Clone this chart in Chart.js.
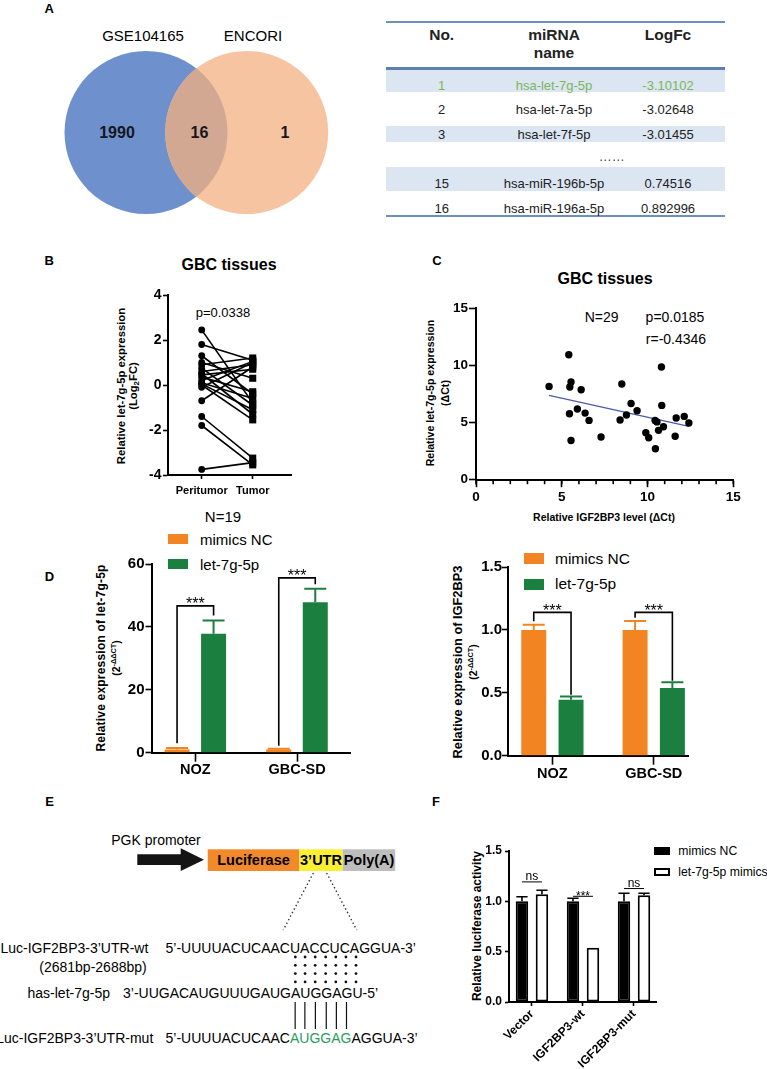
<!DOCTYPE html>
<html><head><meta charset="utf-8">
<script src="https://cdn.jsdelivr.net/npm/chart.js@4.4.1/dist/chart.umd.min.js"></script>
<style>
html,body{margin:0;padding:0;background:#fff;}
body{width:767px;height:1069px;position:relative;overflow:hidden;font-family:"Liberation Sans",Arial,sans-serif;color:#000;}
.t{position:absolute;white-space:nowrap;line-height:1;}
canvas{position:absolute;}
svg{position:absolute;left:0;top:0;}
sup{font-size:70%;vertical-align:0.45em;line-height:0;}
sub{font-size:70%;vertical-align:-0.25em;line-height:0;}
</style></head><body>
<script>
// ---------------- DATA ----------------
const vennSets = ['GSE104165', 'ENCORI'];
const vennCounts = [1990, 16, 1];

const tableHead = ['No.', 'miRNA', 'name', 'LogFc'];
const tableNo = ['1', '2', '3', '15', '16'];
const tableMiRNA = ['hsa-let-7g-5p', 'hsa-let-7a-5p', 'hsa-let-7f-5p', 'hsa-miR-196b-5p', 'hsa-miR-196a-5p'];
const tableLogFc = ['-3.10102', '-3.02648', '-3.01455', '0.74516', '0.892996'];

const pairedCats = ['Peritumor', 'Tumor'];
const peritumor = [2.45, 1.8, 1.3, 1.0, 0.9, 0.75, 0.6, 0.5, 0.45, 0.35, 0.2, 0.1, 0.05, 0.0, -0.1, -0.7, -1.4, -1.8, -3.75];
const tumor     = [-0.8, 1.1, -0.4, 0.3, 1.2, -0.9, 0.9, -1.3, 0.7, -0.3, 1.05, -0.6, -1.1, -1.55, 1.0, 0.8, -3.25, -3.55, -3.45];
const pairedTicks = [-4, -2, 0, 2, 4];

const scatterX = [4.26, 5.41, 5.54, 5.47, 6.13, 5.45, 5.91, 6.36, 6.59, 5.54, 7.29, 8.50, 8.40, 8.77, 9.04, 9.39, 9.90, 10.07, 10.44, 10.46, 10.81, 10.83, 10.64, 10.93, 11.61, 11.67, 12.14, 12.41, 10.55];
const scatterY = [8.15, 10.92, 8.53, 8.10, 7.86, 5.76, 6.17, 5.82, 5.18, 3.43, 3.73, 8.36, 5.21, 5.65, 6.66, 6.03, 4.10, 3.67, 5.18, 2.71, 9.84, 6.49, 4.31, 4.63, 3.79, 5.39, 5.53, 4.95, 5.05];
const fitX = [4.26, 12.41];
const fitY = [7.36, 4.66];
const scatterMajor = [0, 5, 10, 15];

const cellLines = ['NOZ', 'GBC-SD'];
const seriesNames = ['mimics NC', 'let-7g-5p'];
const let7Mean_NC = [1.0, 1.0];
const let7Err_NC = [0.5, 0.25];
const let7Mean_mim = [37.8, 47.8];
const let7Err_mim = [4.2, 4.3];
const igfMean_NC = [1.0, 1.0];
const igfErr_NC = [0.04, 0.07];
const igfMean_mim = [0.445, 0.538];
const igfErr_mim = [0.025, 0.045];

const lucCats = ['Vector', 'IGF2BP3-wt', 'IGF2BP3-mut'];
const lucNames = ['mimics NC', 'let-7g-5p mimics'];
const lucMean_NC = [1.0, 1.0, 1.0];
const lucErr_NC = [0.045, 0.03, 0.08];
const lucMean_mim = [1.07, 0.54, 1.06];
const lucErr_mim = [0.04, 0.0, 0.02];
const lucSig = ['ns', '***', 'ns'];

const seqWt = '5\u2019-UUUUACUCAACUACCUCAGGUA-3\u2019';
const seqMir = '3\u2019-UUGACAUGUUUGAUGAUGGAGU-5\u2019';
const seqMutParts = ['5\u2019-UUUUACUCAAC', 'AUGGAG', 'AGGUA-3\u2019'];

// ---------------- helpers ----------------
const FONT = '"Liberation Sans", Arial, sans-serif';
Chart.defaults.font.family = FONT;
Chart.defaults.color = '#000';
const ORANGE = '#f28522', GREEN = '#1b7f40';

function T(html, x, y, css, align) {
  const d = document.createElement('div');
  d.className = 't';
  d.innerHTML = html;
  d.style.cssText += css || '';
  d.style.left = x + 'px'; d.style.top = y + 'px';
  const tx = align === 'l' ? '0' : align === 'r' ? '-100%' : '-50%';
  d.style.transform = 'translate(' + tx + ',-50%)';
  document.body.appendChild(d);
  return d;
}
function VT(html, x, y, css) {
  const d = document.createElement('div');
  d.className = 't';
  d.innerHTML = html;
  d.style.cssText += css || '';
  d.style.left = x + 'px'; d.style.top = y + 'px';
  d.style.transform = 'translate(-50%,-50%) rotate(-90deg)';
  document.body.appendChild(d);
  return d;
}
function box(x, y, w, h, css) {
  const d = document.createElement('div');
  d.style.cssText = 'position:absolute;box-sizing:border-box;left:' + x + 'px;top:' + y + 'px;width:' + w + 'px;height:' + h + 'px;' + (css || '');
  document.body.appendChild(d);
  return d;
}

function axisCommon(o) {
  return {
    border: { display: true, color: '#000', width: 2 },
    grid: { display: true, drawOnChartArea: false, drawTicks: true, tickLength: o.tl || 5, tickColor: '#000', tickWidth: 1.6, offset: false },
    ticks: Object.assign({ color: '#000', font: { size: o.fs, weight: 'bold', family: FONT }, padding: o.pad, autoSkip: false, maxRotation: 0, minRotation: 0 }, o.ticks || {}),
  };
}

function makeChart(area, BM, config, LM) {
  LM = LM || 60;
  const TM = 16, RM = 16;
  const W = Math.round(area.r - area.l + LM + RM), H = Math.round(area.b - area.t + TM + BM);
  const c = document.createElement('canvas');
  c.width = W; c.height = H;
  c.style.left = (area.l - LM) + 'px'; c.style.top = (area.t - TM) + 'px';
  c.style.width = W + 'px'; c.style.height = H + 'px';
  document.body.appendChild(c);
  const o = config.options;
  o.responsive = false; o.animation = false; o.devicePixelRatio = 1;
  o.layout = { padding: { left: 0, top: TM, right: W - LM - (area.r - area.l), bottom: 0 } };
  o.plugins = Object.assign({ legend: { display: false }, tooltip: { enabled: false }, title: { display: false } }, o.plugins || {});
  o.scales.x.afterFit = s => { s.height = H - TM - (area.b - area.t); };
  o.scales.y.afterFit = s => { s.width = LM; };
  return new Chart(c, config);
}

let pid = 0;
function errPlugin(errs, colors, capFrac, lw) {
  return { id: 'err' + (pid++), afterDatasetsDraw(chart) {
    const ctx = chart.ctx, ys = chart.scales.y;
    chart.data.datasets.forEach((ds, di) => {
      const meta = chart.getDatasetMeta(di);
      meta.data.forEach((el, i) => {
        const e = errs[di][i]; if (!e) return;
        const top = ys.getPixelForValue(ds.data[i].y + e);
        const w = el.width * capFrac;
        ctx.save(); ctx.strokeStyle = colors[di]; ctx.lineWidth = lw || 2;
        ctx.beginPath(); ctx.moveTo(el.x, el.y); ctx.lineTo(el.x, top);
        ctx.moveTo(el.x - w / 2, top); ctx.lineTo(el.x + w / 2, top); ctx.stroke(); ctx.restore();
      });
    });
  }};
}
function bracketPlugin(items, fs) {
  return { id: 'br' + (pid++), afterDatasetsDraw(chart) {
    const ctx = chart.ctx, ys = chart.scales.y;
    const m0 = chart.getDatasetMeta(0), m1 = chart.getDatasetMeta(1);
    items.forEach(it => {
      const x0 = m0.data[it.i].x, x1 = m1.data[it.i].x;
      const yb = ys.getPixelForValue(it.y), yl = ys.getPixelForValue(it.left), yr = ys.getPixelForValue(it.right);
      ctx.save(); ctx.strokeStyle = '#000'; ctx.lineWidth = 1.6;
      ctx.beginPath(); ctx.moveTo(x0, yl); ctx.lineTo(x0, yb); ctx.lineTo(x1, yb); ctx.lineTo(x1, yr); ctx.stroke();
      ctx.fillStyle = '#000'; ctx.font = fs + 'px ' + FONT; ctx.textAlign = 'center'; ctx.textBaseline = 'alphabetic';
      ctx.fillText(it.text, (x0 + x1) / 2, yb + fs * 0.2);
      ctx.restore();
    });
  }};
}
function underPlugin(items, fs) {
  return { id: 'un' + (pid++), afterDatasetsDraw(chart) {
    const ctx = chart.ctx, ys = chart.scales.y;
    const m0 = chart.getDatasetMeta(0), m1 = chart.getDatasetMeta(1);
    items.forEach(it => {
      const x0 = m0.data[it.i].x, x1 = m1.data[it.i].x;
      const yb = ys.getPixelForValue(it.y);
      ctx.save(); ctx.strokeStyle = '#000'; ctx.lineWidth = 1;
      ctx.beginPath(); ctx.moveTo(x0, yb); ctx.lineTo(x1, yb); ctx.stroke();
      ctx.fillStyle = '#000'; ctx.font = fs + 'px ' + FONT; ctx.textAlign = 'center'; ctx.textBaseline = 'alphabetic';
      ctx.fillText(it.text, (x0 + x1) / 2, it.text === 'ns' ? yb - 2 : yb + 4);
      ctx.restore();
    });
  }};
}
function minorTickPlugin(step, len) {
  return { id: 'mt' + (pid++), afterDraw(chart) {
    const ctx = chart.ctx, xs = chart.scales.x, bottom = chart.chartArea.bottom;
    ctx.save(); ctx.strokeStyle = '#000'; ctx.lineWidth = 1.6;
    for (let v = xs.min; v <= xs.max + 1e-9; v += step) {
      const px = xs.getPixelForValue(v);
      ctx.beginPath(); ctx.moveTo(px, bottom); ctx.lineTo(px, bottom + len); ctx.stroke();
    }
    ctx.restore();
  }};
}

// ---------------- Panel letters ----------------
const LET = 'font-weight:bold;font-size:13px;';
T('A', 49.3, 7.5, LET); T('B', 49.3, 260, LET); T('C', 437, 260, LET);
T('D', 49.5, 576, LET); T('E', 49.5, 801, LET); T('F', 436, 801, LET);

// ---------------- Panel A: Venn (SVG) ----------------
const NS = 'http://www.w3.org/2000/svg';
const svg = document.createElementNS(NS, 'svg');
svg.setAttribute('width', 767); svg.setAttribute('height', 1069);
document.body.appendChild(svg);
function S(tag, attrs, text) {
  const e = document.createElementNS(NS, tag);
  for (const k in attrs) e.setAttribute(k, attrs[k]);
  if (text != null) e.textContent = text;
  svg.appendChild(e); return e;
}
const vc = [{ cx: 146, cy: 132.5, r: 81.5, fill: '#6e91cd' }, { cx: 246.7, cy: 132.5, r: 81.5, fill: '#f6c4a0' }];
S('circle', { cx: vc[0].cx, cy: vc[0].cy, r: vc[0].r, fill: vc[0].fill });
S('circle', { cx: vc[1].cx, cy: vc[1].cy, r: vc[1].r, fill: vc[1].fill });
const defs = S('defs', {});
const cp = document.createElementNS(NS, 'clipPath'); cp.setAttribute('id', 'cl');
const cc = document.createElementNS(NS, 'circle'); cc.setAttribute('cx', vc[0].cx); cc.setAttribute('cy', vc[0].cy); cc.setAttribute('r', vc[0].r);
cp.appendChild(cc); defs.appendChild(cp);
S('circle', { cx: vc[1].cx, cy: vc[1].cy, r: vc[1].r, fill: '#d3a893', 'clip-path': 'url(#cl)' });
T(vennSets[0], 143, 35, 'font-size:15px;'); T(vennSets[1], 253, 35, 'font-size:15px;');
const vnum = 'font-size:16px;font-weight:bold;color:#16161e;';
T(String(vennCounts[0]), 117, 133, vnum); T(String(vennCounts[1]), 199.5, 133, vnum); T(String(vennCounts[2]), 285, 133, vnum);

// ---------------- Panel A: table ----------------
box(386, 21, 339, 1.5, 'background:#6f8fbb;');
box(386, 67.3, 339, 2.5, 'background:#5d80b2;');
box(386, 215.3, 339, 1.5, 'background:#6f8fbb;');
[[70, 91.7], [126, 141.7], [166.7, 190.7]].forEach(b => box(386, b[0], 339, b[1] - b[0], 'background:#dce5f2;'));
const TH = 'font-weight:bold;font-size:15.5px;color:#222;';
T(tableHead[0], 441.7, 35, TH); T(tableHead[1], 554, 35, TH); T(tableHead[2], 554, 53, TH); T(tableHead[3], 668, 35, TH);
const rowY = [85, 109.3, 134.3, 182.7, 208.3];
tableNo.forEach((n, i) => {
  const col = i === 0 ? 'color:#7bb65b;' : 'color:#222;';
  T(n, 441.7, rowY[i], 'font-size:13px;' + col);
  T(tableMiRNA[i], 554, rowY[i], 'font-size:13px;' + col);
  T(tableLogFc[i], 668, rowY[i], 'font-size:13px;' + col);
});
T('\u2026\u2026', 611.7, 156, 'font-size:13px;color:#444;');

// ---------------- Panel B: paired plot ----------------
T('GBC tissues', 229, 265, 'font-weight:bold;font-size:16px;');
T('p=0.0338', 223, 312, 'font-size:13px;');
VT('Relative let-7g-5p expression', 121.7, 386, 'font-weight:bold;font-size:11.3px;');
VT('(Log<sub>2</sub>FC)', 133.5, 386, 'font-weight:bold;font-size:11.3px;');
T('N=19', 223, 516, 'font-size:15px;');
makeChart({ l: 168, t: 295, r: 291, b: 475 }, 40, {
  type: 'line',
  data: { datasets: peritumor.map((p, i) => ({
    data: [{ x: 0, y: p }, { x: 1, y: tumor[i] }],
    borderColor: '#000', backgroundColor: '#000', borderWidth: 1.6,
    pointStyle: ['circle', 'rect'], pointRadius: [3.4, 5], pointBorderWidth: 0, clip: false,
  })) },
  options: { scales: {
    x: Object.assign({ type: 'linear', min: -0.66, max: 1.75, afterBuildTicks: s => { s.ticks = [{ value: 0 }, { value: 1 }]; } },
      axisCommon({ fs: 11, pad: 5, tl: 4, ticks: { callback: v => pairedCats[v] } })),
    y: Object.assign({ type: 'linear', min: -4, max: 4, afterBuildTicks: s => { s.ticks = pairedTicks.map(v => ({ value: v })); } },
      axisCommon({ fs: 14, pad: 1.5, tl: 5 })),
  } },
});

// ---------------- Panel C: scatter ----------------
T('GBC tissues', 605, 279, 'font-weight:bold;font-size:16px;');
T('N=29', 601.7, 317.3, 'font-size:14px;');
T('p=0.0185', 675, 317.3, 'font-size:14px;');
T('r=-0.4346', 676, 339.3, 'font-size:14px;');
VT('Relative let-7g-5p expression', 429.5, 393, 'font-weight:bold;font-size:10.6px;');
VT('(\u0394Ct)', 445, 393, 'font-weight:bold;font-size:10.6px;');
T('Relative IGF2BP3 level (\u0394Ct)', 604, 516.7, 'font-weight:bold;font-size:10.5px;');
makeChart({ l: 476, t: 308.3, r: 733.3, b: 480 }, 30, {
  type: 'scatter',
  data: { datasets: [
    { data: scatterX.map((x, i) => ({ x: x, y: scatterY[i] })), backgroundColor: '#000', pointRadius: 3.7, pointBorderWidth: 0, clip: false },
    { type: 'line', data: fitX.map((x, i) => ({ x: x, y: fitY[i] })), borderColor: '#4b5ca8', borderWidth: 1.2, pointRadius: 0, showLine: true, fill: false },
  ] },
  options: { scales: {
    x: Object.assign({ type: 'linear', min: 0, max: 15, afterBuildTicks: s => { s.ticks = scatterMajor.map(v => ({ value: v })); } },
      axisCommon({ fs: 13.5, pad: 2, tl: 7.5 })),
    y: Object.assign({ type: 'linear', min: 0, max: 15, afterBuildTicks: s => { s.ticks = scatterMajor.map(v => ({ value: v })); } },
      axisCommon({ fs: 13.5, pad: 1, tl: 7 })),
  } },
  plugins: [minorTickPlugin(1, 4.5)],
});

// ---------------- Panel D left ----------------
box(168.3, 534, 20, 10, 'background:' + ORANGE + ';');
box(168.3, 559, 20, 10, 'background:' + GREEN + ';');
T(seriesNames[0], 200, 539, 'font-size:15px;', 'l');
T(seriesNames[1], 200, 564, 'font-size:15px;', 'l');
VT('Relative expression of let-7g-5p', 100.7, 658, 'font-weight:bold;font-size:12px;letter-spacing:0.2px;');
VT('(2<sup>-\u0394\u0394CT</sup>)', 115.5, 658, 'font-weight:bold;font-size:10.5px;');
makeChart({ l: 151.7, t: 564, r: 350, b: 752.7 }, 40, {
  type: 'bar',
  data: { datasets: [
    { label: seriesNames[0], data: let7Mean_NC.map((v, i) => ({ x: i, y: v })), backgroundColor: ORANGE, categoryPercentage: 0.718, barPercentage: 0.685 },
    { label: seriesNames[1], data: let7Mean_mim.map((v, i) => ({ x: i, y: v })), backgroundColor: GREEN, categoryPercentage: 0.718, barPercentage: 0.685 },
  ] },
  options: { scales: {
    x: Object.assign({ type: 'linear', offset: false, min: -0.426, max: 1.524, afterBuildTicks: s => { s.ticks = [{ value: 0 }, { value: 1 }]; } },
      axisCommon({ fs: 14.5, pad: 0, tl: 9, ticks: { callback: v => cellLines[v] } })),
    y: Object.assign({ type: 'linear', min: 0, max: 60 }, axisCommon({ fs: 15, pad: 1, tl: 6.5, ticks: { stepSize: 20 } })),
  } },
  plugins: [errPlugin([let7Err_NC, let7Err_mim], [ORANGE, GREEN], 0.88, 2),
            bracketPlugin([{ i: 0, y: 46.7, left: 3.0, right: 43.6, text: '***' }, { i: 1, y: 55.6, left: 2.2, right: 53.6, text: '***' }], 16)],
});

// ---------------- Panel D right ----------------
box(524, 553, 20, 11, 'background:' + ORANGE + ';');
box(524, 578.5, 20, 11, 'background:' + GREEN + ';');
T(seriesNames[0], 555, 558.5, 'font-size:15.5px;', 'l');
T(seriesNames[1], 555, 584, 'font-size:15.5px;', 'l');
VT('Relative expression of IGF2BP3', 458.3, 661.7, 'font-weight:bold;font-size:12.8px;');
VT('(2<sup>-\u0394\u0394CT</sup>)', 473, 661.7, 'font-weight:bold;font-size:10.5px;');
makeChart({ l: 508.3, t: 567.3, r: 689, b: 756 }, 40, {
  type: 'bar',
  data: { datasets: [
    { label: seriesNames[0], data: igfMean_NC.map((v, i) => ({ x: i, y: v })), backgroundColor: ORANGE, categoryPercentage: 0.736, barPercentage: 0.67 },
    { label: seriesNames[1], data: igfMean_mim.map((v, i) => ({ x: i, y: v })), backgroundColor: GREEN, categoryPercentage: 0.736, barPercentage: 0.67 },
  ] },
  options: { scales: {
    x: Object.assign({ type: 'linear', offset: false, min: -0.438, max: 1.345, afterBuildTicks: s => { s.ticks = [{ value: 0 }, { value: 1 }]; } },
      axisCommon({ fs: 14.5, pad: 1, tl: 9, ticks: { callback: v => cellLines[v] } })),
    y: Object.assign({ type: 'linear', min: 0, max: 1.5 }, axisCommon({ fs: 15, pad: 0, tl: 6, ticks: { stepSize: 0.5, callback: v => v.toFixed(1) } })),
  } },
  plugins: [errPlugin([igfErr_NC, igfErr_mim], [ORANGE, GREEN], 0.88, 2),
            bracketPlugin([{ i: 0, y: 1.139, left: 1.068, right: 0.485, text: '***' }, { i: 1, y: 1.139, left: 1.097, right: 0.595, text: '***' }], 16)],
});

// ---------------- Panel E: construct diagram ----------------
T('PGK promoter', 156, 840, 'font-size:14px;');
S('polygon', { points: '137.3,854.3 180.7,854.3 180.7,848.3 204,859.7 180.7,871 180.7,865 137.3,865', fill: '#141414' });
S('rect', { x: 207.7, y: 849.3, width: 91.6, height: 21.7, fill: '#f28a2b' });
S('rect', { x: 299.3, y: 849.3, width: 43.4, height: 21.7, fill: '#faf031' });
S('rect', { x: 342.7, y: 849.3, width: 52.5, height: 21.7, fill: '#bdbdbd' });
const BX = 'font-weight:bold;font-size:14.5px;';
T('Luciferase', 253.5, 860.2, BX); T('3\u2019UTR', 321, 860.2, BX); T('Poly(A)', 369, 860.2, BX);
S('line', { x1: 313.3, y1: 873, x2: 283.3, y2: 930, stroke: '#333', 'stroke-width': 1.4, 'stroke-dasharray': '1.4,2.6' });
S('line', { x1: 326.7, y1: 873, x2: 356.7, y2: 930, stroke: '#333', 'stroke-width': 1.4, 'stroke-dasharray': '1.4,2.6' });

const SEQF = '14px "Liberation Sans"';
const mctx = document.createElement('canvas').getContext('2d');
mctx.font = SEQF;
function cx(str, idx, x0) { return x0 + mctx.measureText(str.slice(0, idx)).width + mctx.measureText(str[idx]).width / 2; }
const SQ = 'font-size:14px;font-kerning:none;';
const xWt = 165.5, xMir = 123, xMut = 165.5;
const yWt = 947.7, yBp = 966.7, yMir = 993.3, yMut = 1038.3;
T('Luc-IGF2BP3-3\u2019UTR-wt', 148.3, yWt, SQ, 'r');
T('(2681bp-2688bp)', 146.7, yBp, SQ, 'r');
T('has-let-7g-5p', 110, yMir, SQ, 'r');
T('Luc-IGF2BP3-3\u2019UTR-mut', 153.3, yMut, SQ, 'r');
T(seqWt, xWt, yWt, SQ, 'l');
T(seqMir, xMir, yMir, SQ, 'l');
T(seqMutParts[0] + '<span style="color:#2a9d5c">' + seqMutParts[1] + '</span>' + seqMutParts[2], xMut, yMut, SQ, 'l');
for (let k = 0; k < 7; k++) {
  const x = (cx(seqWt, 14 + k, xWt) + cx(seqMir, 18 + k, xMir)) / 2;
  for (let r = 0; r < 4; r++) S('circle', { cx: x, cy: 957 + r * 8.3, r: 1.4, fill: '#111' });
}
for (let k = 0; k < 6; k++) {
  const x = (cx(seqMutParts[0] + seqMutParts[1], 14 + k, xMut) + cx(seqMir, 18 + k, xMir)) / 2;
  S('line', { x1: x, y1: 1002, x2: x, y2: 1029, stroke: '#111', 'stroke-width': 1.2 });
}

// ---------------- Panel F: luciferase ----------------
box(654, 847.3, 16, 8, 'background:#000;');
box(654, 868, 16, 8, 'background:#fff;border:2px solid #000;');
T(lucNames[0], 678.3, 851, 'font-size:12.2px;', 'l');
T(lucNames[1], 678.3, 872, 'font-size:12.2px;', 'l');
VT('Relative luciferase activity', 476.7, 926, 'font-weight:bold;font-size:12px;');
makeChart({ l: 509, t: 850.7, r: 656.7, b: 1001.7 }, 67, {
  type: 'bar',
  data: { datasets: [
    { label: lucNames[0], data: lucMean_NC.map((v, i) => ({ x: i, y: v })), backgroundColor: '#000', borderColor: '#000', borderWidth: 2, borderSkipped: false, categoryPercentage: 0.784, barPercentage: 0.625 },
    { label: lucNames[1], data: lucMean_mim.map((v, i) => ({ x: i, y: v })), backgroundColor: '#fff', borderColor: '#000', borderWidth: 2, borderSkipped: false, categoryPercentage: 0.784, barPercentage: 0.625 },
  ] },
  options: { scales: {
    x: Object.assign({ type: 'linear', offset: false, min: -0.45, max: 2.445, afterBuildTicks: s => { s.ticks = [{ value: 0 }, { value: 1 }, { value: 2 }]; } },
      axisCommon({ fs: 12, pad: 1, tl: 4, ticks: { callback: v => lucCats[v], minRotation: 45, maxRotation: 45 } })),
    y: Object.assign({ type: 'linear', min: 0, max: 1.5 }, axisCommon({ fs: 12, pad: 3, tl: 4, ticks: { stepSize: 0.5, callback: v => v.toFixed(1) } })),
  } },
  plugins: [errPlugin([lucErr_NC, lucErr_mim], ['#000', '#000'], 0.9, 1.6),
            underPlugin([{ i: 0, y: 1.193, text: lucSig[0] }, { i: 1, y: 1.05, text: lucSig[1] }, { i: 2, y: 1.127, text: lucSig[2] }], 12)],
});
</script>
</body></html>
